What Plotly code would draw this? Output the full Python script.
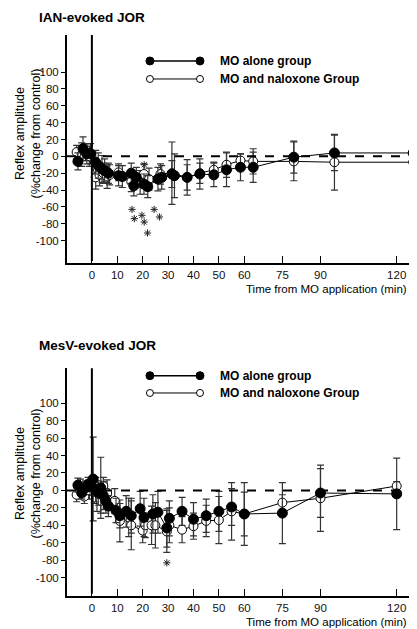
import plotly.graph_objects as go

# ---------------- data ----------------
x_ticks = [0, 10, 20, 30, 40, 50, 60, 75, 90, 120]
y_ticks = [100, 80, 60, 40, 20, 0, -20, -40, -60, -80, -100]

# IAN-evoked JOR
ian_alone_t = [-5.5, -3.5, -2, -0.5, 1.5, 2.5, 4, 5, 6.5, 10.5, 12, 15.5, 16.5, 17.5, 20.5, 22, 26, 27.5,
               31.5, 32.5, 37.5, 42.5, 48, 53, 58.5, 63.5, 79.5, 95.5, 126.5]
ian_alone_v = [-6, 9, 3, 3, -7, -11, -15, -17, -20, -23, -24, -20, -35, -25, -33, -36, -27, -25,
               -21, -23, -25, -21, -22, -16, -13, -13, -1, 4, 4]
ian_alone_e = [10, 14, 12, 12, 14, 15, 16, 14, 12, 12, 13, 12, 12, 12, 12, 13, 14, 14,
               16, 26, 21, 18, 14, 20, 16, 18, 19, 21, 24]

ian_nal_t = [-6, -4, -2.5, -1, 1.5, 3, 4.5, 6, 7, 10.5, 15.5, 19, 20.5, 22.5, 27, 31.5, 37.5, 42.5,
             48, 53, 58.5, 63.5, 79.5, 95.5, 126.5]
ian_nal_v = [5, 2, 5, 0, -25, -22, -20, -24, -22, -19, -30, -31, -21, -27, -21, -20, -25, -20,
             -16, -10, -5, -6, -6, -7, -7]
ian_nal_e = [8, 14, 10, 12, 14, 13, 12, 14, 12, 10, 12, 14, 12, 13, 12, 37, 15, 12,
             9, 15, 8, 15, 23, 33, 29]

ian_star_t = [20.6, 15.8, 16.7, 19.7, 20.6, 21.9, 24.5, 26.6]
ian_star_v = [-10, -63, -74, -70, -78, -91, -63, -72]

# MesV-evoked JOR
mesv_alone_t = [-5.5, -4, -2.5, -1.5, 0.5, 1.5, 2.5, 3.5, 4.5, 5.5, 6.5, 9.5, 11, 13.5, 15.5, 19, 20.5,
                24, 26, 29.5, 30.5, 35.5, 40, 45, 50, 55, 60, 75, 90, 120]
mesv_alone_v = [6, -3, 3, 7, 13, 1, -3, 3, -6, -12, -18, -23, -29, -24, -29, -21, -31,
                -27, -25, -43, -32, -24, -33, -29, -24, -19, -27, -26, -3, -4]
mesv_alone_e = [8, 7, 8, 8, 48, 14, 14, 35, 16, 14, 12, 14, 14, 18, 20, 20, 22,
                22, 24, 22, 20, 16, 19, 19, 23, 21, 25, 35, 28, 41]

mesv_nal_t = [-6, -4.5, -3, -1, 1, 2, 3.5, 4.5, 6, 9, 11, 14.5, 15.5, 20, 21, 23.5, 25, 29.5, 30.5,
              35.5, 40, 45, 50, 55, 60, 75, 90, 120]
mesv_nal_v = [-5, 5, -7, 0, -3, -10, -12, 5, -3, -12, -35, -31, -40, -46, -40, -40, -40, -47, -40,
              -45, -41, -35, -34, -24, -27, -14, -9, 5]
mesv_nal_e = [8, 8, 8, 10, 12, 14, 14, 10, 15, 14, 24, 22, 28, 14, 14, 22, 26, 24, 20,
              15, 15, 18, 27, 33, 36, 9, 38, 5]

mesv_star_t = [29.5]
mesv_star_v = [-83]

titles = ["IAN-evoked JOR", "MesV-evoked JOR"]
legend_names = ["MO alone group", "MO and naloxone Group"]
y_title = "Reflex amplitude<br>(%change from control)"
x_title = "Time from MO application (min)"

# ---------------- figure ----------------
FONT = "Arial, Liberation Sans, sans-serif"
fig = go.Figure()

def add_series(t, v, e, filled, xa, ya):
    fig.add_trace(go.Scatter(
        x=t, y=v, mode="lines+markers", xaxis=xa, yaxis=ya, showlegend=False,
        line=dict(color="black", width=1),
        marker=dict(symbol="circle", size=10 if filled else 9,
                    color="black" if filled else "white",
                    line=dict(color="black", width=1)),
        error_y=dict(type="data", array=e, visible=True, color="#333", thickness=1.2, width=3.5),
        cliponaxis=False,
    ))

def add_stars(t, v, xa, ya):
    fig.add_trace(go.Scatter(
        x=t, y=v, mode="markers", xaxis=xa, yaxis=ya, showlegend=False,
        marker=dict(symbol="asterisk-open", size=6, color="#222", line=dict(color="#222", width=1)),
    ))

add_series(ian_nal_t, ian_nal_v, ian_nal_e, False, "x", "y")
add_series(ian_alone_t, ian_alone_v, ian_alone_e, True, "x", "y")
add_stars(ian_star_t, ian_star_v, "x", "y")
add_series(mesv_nal_t, mesv_nal_v, mesv_nal_e, False, "x2", "y2")
add_series(mesv_alone_t, mesv_alone_v, mesv_alone_e, True, "x2", "y2")
add_stars(mesv_star_t, mesv_star_v, "x2", "y2")

xaxis_common = dict(
    range=[-9.8, 128], tickmode="array", tickvals=x_ticks, ticktext=[str(v) for v in x_ticks],
    showline=True, linecolor="black", linewidth=2, ticks="inside", ticklen=7, tickwidth=1.2,
    tickcolor="black", showgrid=False, zeroline=False,
    tickfont=dict(family=FONT, size=11.5, color="#111"),
)
yaxis_common = dict(
    tickmode="array", tickvals=y_ticks, ticktext=[str(v) for v in y_ticks],
    showline=True, linecolor="black", linewidth=2, ticks="outside", ticklen=4, tickwidth=1,
    tickcolor="black", showgrid=False, zeroline=False,
    tickfont=dict(family=FONT, size=11.5, color="#111"),
)

top_dom = [0.593, 1.0]
bot_dom = [0.0, 0.406]

# page body adds an 8px margin, so the figure is 8px smaller and its margins 8px tighter
fig.update_layout(
    width=409, height=621,
    margin=dict(l=59, r=0, t=27, b=33),
    paper_bgcolor="white", plot_bgcolor="white",
    showlegend=False,
    xaxis=dict(**xaxis_common, anchor="y"),
    yaxis=dict(**yaxis_common, domain=top_dom, range=[-127, 144], anchor="x"),
    xaxis2=dict(**xaxis_common, anchor="y2"),
    yaxis2=dict(**yaxis_common, domain=bot_dom, range=[-121, 140], anchor="x2"),
)

shapes = []
annotations = []
for xr, yr in [("x", "y"), ("x2", "y2")]:
    shapes.append(dict(type="line", xref=f"{xr} domain", yref=yr, x0=0, x1=1, y0=0, y1=0,
                       line=dict(color="black", width=2, dash="dash")))
    shapes.append(dict(type="line", xref=xr, yref=f"{yr} domain", x0=0, x1=0, y0=0.01, y1=1,
                       line=dict(color="black", width=2)))

# legends (drawn manually: line with a circle at each end)
leg_rows = [(0.9537, 0.9216), (0.3927, 0.3619)]
for (yf, yo) in leg_rows:
    for yy, filled in [(yf, True), (yo, False)]:
        shapes.append(dict(type="line", xref="paper", yref="paper", x0=0.237, x1=0.38, y0=yy, y1=yy,
                           line=dict(color="black", width=1.5 if filled else 1)))
        r = 4 if filled else 3.5
        for xx in (0.237, 0.38):
            shapes.append(dict(type="circle", xref="paper", yref="paper",
                               xsizemode="pixel", ysizemode="pixel", xanchor=xx, yanchor=yy,
                               x0=-r, x1=r, y0=-r, y1=r,
                               fillcolor="black" if filled else "white",
                               line=dict(color="black", width=1)))
    for yy, name in [(yf, legend_names[0]), (yo, legend_names[1])]:
        annotations.append(dict(xref="paper", yref="paper", x=0.431, y=yy, xanchor="left",
                                yanchor="middle", showarrow=False, text=f"<b>{name}</b>",
                                font=dict(family=FONT, size=12, color="black")))

# titles
for yy, title in [(1.0 + 18 / 561, titles[0]), ((596 - 345) / 561, titles[1])]:
    annotations.append(dict(xref="paper", yref="paper", x=(37 - 67) / 350, y=yy, xanchor="left",
                            yanchor="middle", showarrow=False, text=f"<b>{title}</b>",
                            font=dict(family=FONT, size=13.5, color="black")))

# y-axis titles
for yy in [(596 - 134) / 561, (596 - 474) / 561]:
    annotations.append(dict(xref="paper", yref="paper", x=(27.5 - 67) / 350, y=yy, xanchor="center",
                            yanchor="middle", showarrow=False, textangle=-90, text=y_title,
                            font=dict(family=FONT, size=12.5, color="black")))

# x-axis titles
for yy in [(596 - 289) / 561, (596 - 622) / 561]:
    annotations.append(dict(xref="paper", yref="paper", x=(409 - 67) / 350, y=yy, xanchor="right",
                            yanchor="middle", showarrow=False, text=x_title,
                            font=dict(family=FONT, size=11.5, color="black")))

fig.update_layout(shapes=shapes, annotations=annotations)
fig.write_html("out.html")
